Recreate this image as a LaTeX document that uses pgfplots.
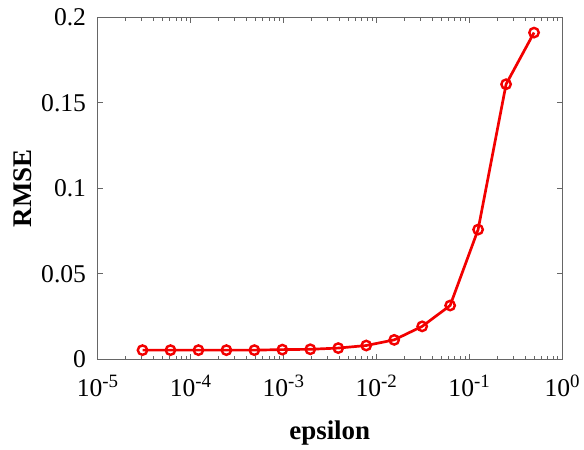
\documentclass[border=0pt]{standalone}
\usepackage{pgfplots}
\pgfplotsset{compat=1.18}
\usepackage{fontspec}
\setmainfont{Liberation Serif}
\newcommand{\tp}[1]{10\raisebox{0.8ex}{\fontsize{14}{14}\selectfont #1}}
\begin{document}
\begin{tikzpicture}
\begin{axis}[
    scale only axis,
    width=345pt, height=254pt,
    xmode=log,
    xmin=1e-5, xmax=1,
    ymin=0, ymax=0.2,
    xtick={1e-5,1e-4,1e-3,1e-2,1e-1,1},
    xticklabels={\tp{-5},\tp{-4},\tp{-3},\tp{-2},\tp{-1},\tp{0}},
    ytick={0,0.05,0.1,0.15,0.2},
    yticklabels={0,0.05,0.1,0.15,0.2},
    tick label style={font=\fontsize{19}{21}\selectfont},
    xticklabel style={yshift=-8pt},
    yticklabel style={xshift=-5pt},
    label style={font=\fontsize{20}{22}\selectfont\bfseries},
    xlabel={epsilon},
    ylabel={RMSE},
    xlabel style={yshift=-11pt},
    axis line style={gray!80!black, line width=0.6pt},
    every tick/.style={gray!80!black, line width=0.5pt},
    major tick length=4pt,
    minor tick length=2.5pt,
    tick align=inside,
]
\addplot[red!95!black, line width=2pt, mark=o, mark size=3.5pt, mark options={line width=1.8pt}] coordinates {
    (3.0518e-5,0.0053)
    (6.1035e-5,0.0053)
    (1.2207e-4,0.0053)
    (2.4414e-4,0.0053)
    (4.8828e-4,0.0053)
    (9.7656e-4,0.0056)
    (1.9531e-3,0.0058)
    (3.9063e-3,0.0065)
    (7.8125e-3,0.0080)
    (0.015625,0.0113)
    (0.03125,0.0192)
    (0.0625,0.0314)
    (0.125,0.0758)
    (0.25,0.1608)
    (0.5,0.1910)
};
\end{axis}
\path ([xshift=-7pt]current bounding box.west);
\path ([yshift=3pt]current bounding box.north);
\end{tikzpicture}
\end{document}
